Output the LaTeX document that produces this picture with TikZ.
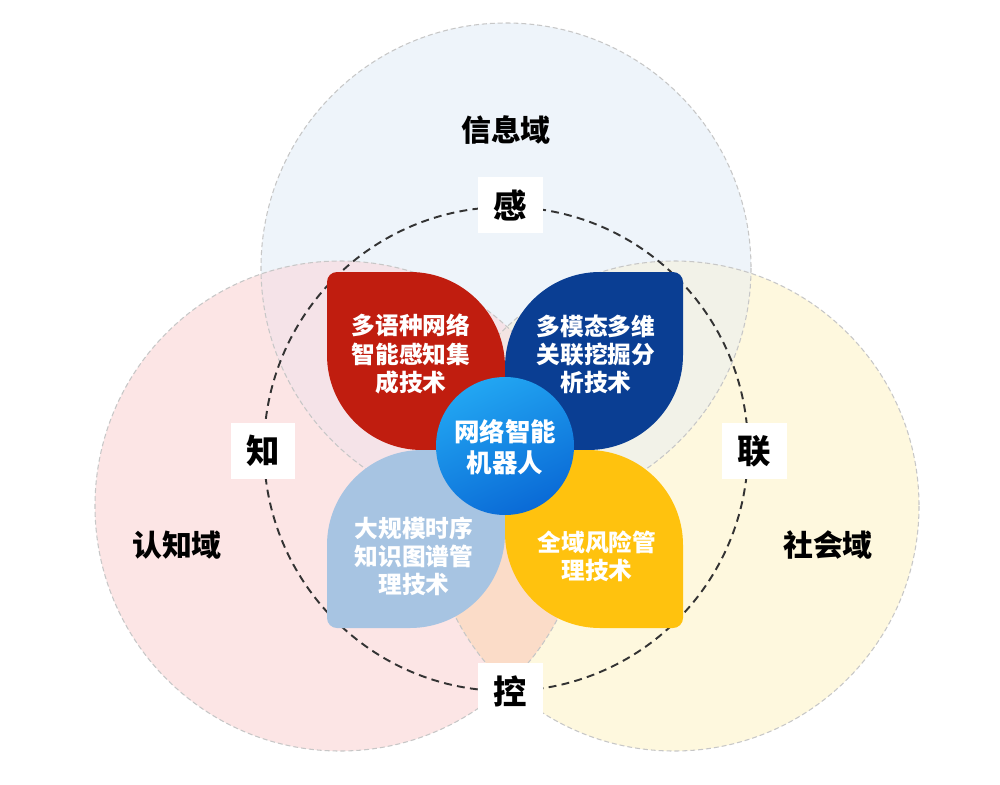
\documentclass[tikz,border=0pt]{standalone}
\usepackage{fontspec}
\setmainfont{Noto Sans CJK SC}
\usetikzlibrary{positioning}

\definecolor{topfill}{HTML}{EEF4FA}
\definecolor{leftfill}{HTML}{FCE5E5}
\definecolor{rightfill}{HTML}{FEF8DE}
\definecolor{topleft}{HTML}{F5E3E8}
\definecolor{topright}{HTML}{F2F2E8}
\definecolor{leftright}{HTML}{FBDCC8}
\definecolor{allthree}{HTML}{F3E4E2}
\definecolor{petalred}{HTML}{C01D0F}
\definecolor{petalblue}{HTML}{0A3E93}
\definecolor{petallight}{HTML}{A7C4E2}
\definecolor{petalyellow}{HTML}{FFC20E}
\definecolor{hubtop}{HTML}{22A6F2}
\definecolor{hubbot}{HTML}{0A6AD6}

\tikzset{
  domainline/.style={dashed, draw=black!22, line width=0.6pt, dash pattern=on 2.8pt off 1.7pt},
  ringline/.style={draw=black!80, line width=1.1pt, dash pattern=on 4.5pt off 3pt},
  petaltext/.style={text=white, align=center, font=\bfseries\fontsize{13.5}{16}\selectfont},
  keybox/.style={fill=white, minimum width=1.3cm, minimum height=1.12cm, inner sep=0pt, font=\bfseries\fontsize{19}{19}\selectfont},
  domaintext/.style={font=\bfseries\fontsize{17}{17}\selectfont},
}

\begin{document}
\begin{tikzpicture}[x=0.02cm,y=-0.02cm]
\useasboundingbox (0,0) rectangle (1000,784);
\fill[white] (0,0) rectangle (1000,784);

% three domains
\fill[topfill] (506,268) circle (245);
\fill[leftfill] (340,506) circle (245);
\fill[rightfill] (674,506) circle (245);
\begin{scope}
\clip (506,268) circle (245);
\fill[topleft] (340,506) circle (245);
\fill[topright] (674,506) circle (245);
\clip (340,506) circle (245);
\fill[allthree] (674,506) circle (245);
\end{scope}
\begin{scope}
\clip (340,506) circle (245);
\fill[leftright] (674,506) circle (245);
\clip (506,268) circle (245);
\fill[allthree] (674,506) circle (245);
\end{scope}
\draw[domainline] (506,268) circle (245);
\draw[domainline] (340,506) circle (245);
\draw[domainline] (674,506) circle (245);

% dashed ring
\draw[ringline] (506,449) circle (242);

% petals
\fill[petalred] (505,450) -- (505,367) arc (0:-90:95) -- (337,272) arc (-90:-180:10) -- (327,355) arc (180:90:95) -- cycle;
\fill[petalblue] (505,450) -- (505,367) arc (180:270:95) -- (673,272) arc (270:360:10) -- (683,355) arc (0:90:95) -- cycle;
\fill[petallight] (505,450) -- (422,450) arc (270:180:95) -- (327,618) arc (180:90:10) -- (410,628) arc (90:0:95) -- cycle;
\fill[petalyellow] (505,450) -- (588,450) arc (270:360:95) -- (683,618) arc (0:90:10) -- (600,628) arc (90:180:95) -- cycle;

\node[petaltext] (sense) at (411,354) {多语种网络\\智能感知集\\成技术};
\node[petaltext] (mine) at (596,354) {多模态多维\\关联挖掘分\\析技术};
\node[petaltext] (graph) at (414,556) {大规模时序\\知识图谱管\\理技术};
\node[petaltext] (risk) at (597,556) {全域风险管\\理技术};

% hub
\shade[top color=hubtop, bottom color=hubbot, shading angle=25] (505,446) circle (69);
\node[text=white, align=center, font=\bfseries\fontsize{14.5}{17.5}\selectfont] (hub) at (505,447) {网络智能\\机器人};

% labels
\node[domaintext] (info) at (506,130) {信息域};
\node[domaintext] (cogn) at (177,545) {认知域};
\node[domaintext] (soc) at (828,545) {社会域};
\node[keybox] (gan) at (510,205) {感};
\node[keybox] (zhi) at (263,451) {知};
\node[keybox] (lian) at (754,451) {联};
\node[keybox] (kong) at (510,691) {控};
\end{tikzpicture}
\end{document}
